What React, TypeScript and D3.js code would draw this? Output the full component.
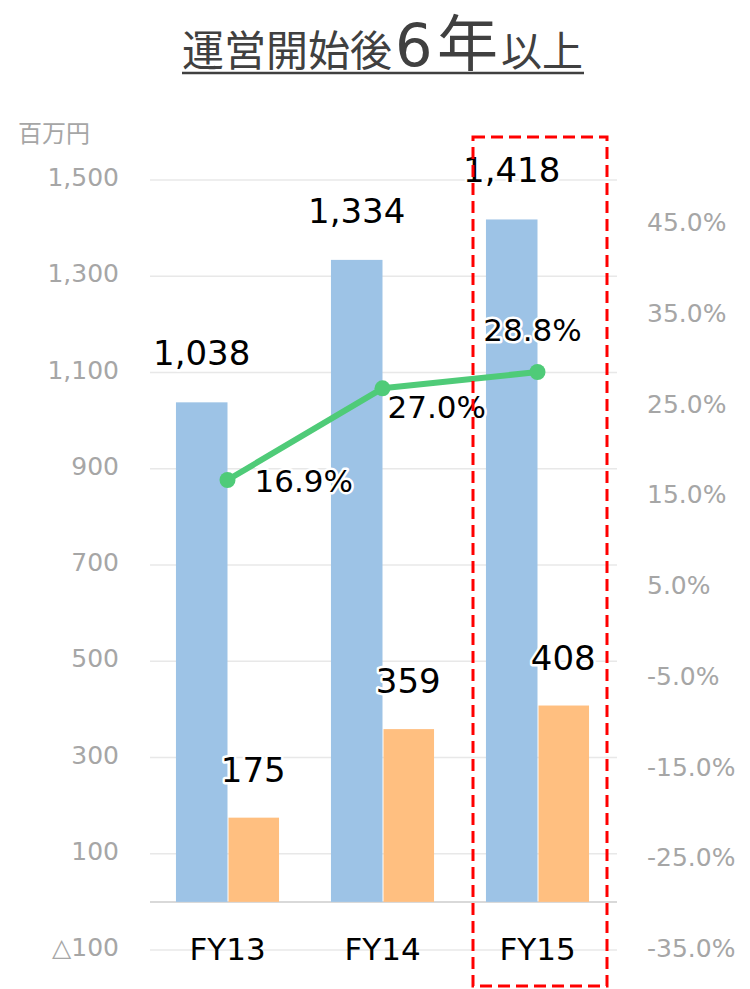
import React from 'react';
import * as d3 from 'd3';

const years = ['FY13', 'FY14', 'FY15'];
const sales = [1038, 1334, 1418];
const profit = [175, 359, 408];
const margin = [16.9, 27.0, 28.8];
const leftTicks = [-100, 100, 300, 500, 700, 900, 1100, 1300, 1500];
const gridTicks = [-100, 0, 100, 300, 500, 700, 900, 1100, 1300, 1500];
const rightTicks = [-35, -25, -15, -5, 5, 15, 25, 35, 45];

// where Excel put each margin label, relative to its point
const marginLabelPos = [
  { dx: 27, dy: 12, anchor: 'start' },
  { dx: 5, dy: 30, anchor: 'start' },
  { dx: -5, dy: -31, anchor: 'middle' },
];

const FONT = '"DejaVu Sans", "Noto Sans CJK JP", sans-serif';
const BLUE = '#9dc3e6';
const ORANGE = '#ffbf80';
const GREEN = '#4fcb78';
const GRAY = '#a6a6a6';

const fmtLeft = (v: number) => (v < 0 ? '△' + d3.format(',')(-v) : d3.format(',')(v));
const fmtPct = (v: number) => d3.format('.1f')(v).replace('−', '-') + '%';

export default function App() {
  const W = 750;
  const H = 989;

  const y = d3.scaleLinear().domain([-100, 1500]).range([950, 180]);
  const yr = d3.scaleLinear().domain([-35, 45]).range([951, 225]);
  const x = d3.scaleBand().domain(years).range([150, 615]).paddingInner(0.335).paddingOuter(0.1675);
  const x1 = d3.scaleBand().domain(['sales', 'profit']).range([0, x.bandwidth()]);

  const line = d3
    .line<number>()
    .x((_, i) => (x(years[i]) as number) + x.bandwidth() / 2)
    .y((d) => yr(d));

  const halo = { stroke: '#fff', strokeWidth: 5, strokeLinejoin: 'round' as const, paintOrder: 'stroke' };

  return (
    <svg width={W} height={H} style={{ display: 'block', position: 'fixed', top: 0, left: 0 }} fontFamily={FONT}>
      <rect width={W} height={H} fill="#fff" />

      {/* title */}
      <text y={66} fill="#404040">
        <tspan x={182} fontSize={42}>運営開始後</tspan>
        <tspan x={395} fontSize={59}>6</tspan>
        <tspan x={437} fontSize={61}>年</tspan>
        <tspan x={501} fontSize={41}>以上</tspan>
      </text>
      <line x1={182} x2={584} y1={73} y2={73} stroke="#404040" strokeWidth={2.5} />

      <text x={18} y={142} fill={GRAY} fontSize={24}>百万円</text>

      {/* grid */}
      {gridTicks.map((t) => (
        <line
          key={t}
          x1={150}
          x2={617}
          y1={y(t)}
          y2={y(t)}
          stroke={t === 0 ? '#d9d9d9' : '#e8e8e8'}
          strokeWidth={t === 0 ? 2 : 1.5}
        />
      ))}

      {/* left axis */}
      {leftTicks.map((t) => (
        <text key={t} x={119} y={y(t) + 6} textAnchor="end" fill={GRAY} fontSize={25}>
          {fmtLeft(t)}
        </text>
      ))}

      {/* right axis */}
      {rightTicks.map((t) => (
        <text key={t} x={647} y={yr(t) + 6} textAnchor="start" fill={GRAY} fontSize={25}>
          {fmtPct(t)}
        </text>
      ))}

      {/* bars */}
      {years.map((yy, i) => {
        const gx = x(yy) as number;
        return (
          <g key={yy}>
            <rect x={gx + (x1('sales') as number)} y={y(sales[i])} width={x1.bandwidth()} height={y(0) - y(sales[i])} fill={BLUE} />
            <rect x={gx + (x1('profit') as number) + 1} y={y(profit[i])} width={x1.bandwidth() - 1} height={y(0) - y(profit[i])} fill={ORANGE} />
          </g>
        );
      })}

      {/* margin line */}
      <path d={line(margin) as string} fill="none" stroke={GREEN} strokeWidth={6} strokeLinejoin="round" />
      {margin.map((m, i) => (
        <circle key={i} cx={(x(years[i]) as number) + x.bandwidth() / 2} cy={yr(m)} r={8} fill={GREEN} />
      ))}

      {/* bar labels */}
      {years.map((yy, i) => {
        const gx = x(yy) as number;
        const bw = x1.bandwidth();
        return (
          <g key={yy} fontSize={34} fill="#000">
            <text x={gx + (x1('sales') as number) + bw / 2} y={y(sales[i]) - 37} textAnchor="middle" {...halo}>
              {d3.format(',')(sales[i])}
            </text>
            <text x={gx + (x1('profit') as number) + bw / 2} y={y(profit[i]) - 36} textAnchor="middle" {...halo}>
              {d3.format(',')(profit[i])}
            </text>
          </g>
        );
      })}

      {/* margin labels */}
      {margin.map((m, i) => {
        const p = marginLabelPos[i];
        const cx = (x(years[i]) as number) + x.bandwidth() / 2;
        return (
          <text key={i} x={cx + p.dx} y={yr(m) + p.dy} textAnchor={p.anchor} fontSize={31} fill="#000" {...halo}>
            {fmtPct(m)}
          </text>
        );
      })}

      {/* categories */}
      {years.map((yy) => (
        <text key={yy} x={(x(yy) as number) + x.bandwidth() / 2} y={960} textAnchor="middle" fontSize={31} fill="#000">
          {yy}
        </text>
      ))}

      {/* highlight box */}
      <rect x={473} y={137} width={134} height={849} fill="none" stroke="#ff0000" strokeWidth={3} strokeDasharray="12 6" />
    </svg>
  );
}
